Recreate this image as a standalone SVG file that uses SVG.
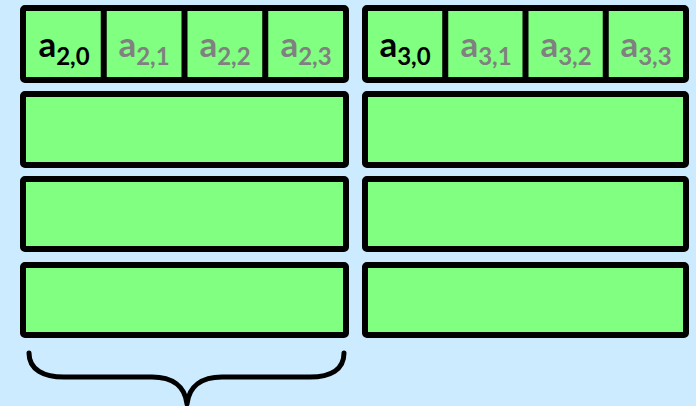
<svg xmlns="http://www.w3.org/2000/svg" width="696" height="406" viewBox="0 0 696 406">
  <style>
    .box { fill: #80FF80; stroke: #000; stroke-width: 6; }
    .div { stroke: #000; stroke-width: 6; }
    .lbl { font-family: Lato, "Open Sans", "Liberation Sans", sans-serif; font-weight: bold; font-size: 35px; text-anchor: middle; }
    .sub { font-size: 24px; }
    .on { fill: #000; }
    .off { fill: #808080; }
    .brace { fill: none; stroke: #000; stroke-width: 5; stroke-linecap: round; stroke-linejoin: round; }
  </style>
  <rect width="696" height="406" fill="#CCEBFF"/>

  <g id="row-left-0">
    <rect class="box" x="23" y="8" width="323" height="72" rx="2"/>
    <line class="div" x1="103.75" y1="8" x2="103.75" y2="80"/>
    <line class="div" x1="184.5" y1="8" x2="184.5" y2="80"/>
    <line class="div" x1="265.25" y1="8" x2="265.25" y2="80"/>
    <text class="lbl on" x="64" y="57">a<tspan class="sub" dy="8">2,0</tspan></text>
    <text class="lbl off" x="144" y="57">a<tspan class="sub" dy="8">2,1</tspan></text>
    <text class="lbl off" x="225" y="57">a<tspan class="sub" dy="8">2,2</tspan></text>
    <text class="lbl off" x="306" y="57">a<tspan class="sub" dy="8">2,3</tspan></text>
  </g>
  <g id="row-right-0">
    <rect class="box" x="365" y="8" width="321" height="72" rx="2"/>
    <line class="div" x1="445.25" y1="8" x2="445.25" y2="80"/>
    <line class="div" x1="525.5" y1="8" x2="525.5" y2="80"/>
    <line class="div" x1="605.75" y1="8" x2="605.75" y2="80"/>
    <text class="lbl on" x="405" y="57">a<tspan class="sub" dy="8">3,0</tspan></text>
    <text class="lbl off" x="486" y="57">a<tspan class="sub" dy="8">3,1</tspan></text>
    <text class="lbl off" x="566" y="57">a<tspan class="sub" dy="8">3,2</tspan></text>
    <text class="lbl off" x="646" y="57">a<tspan class="sub" dy="8">3,3</tspan></text>
  </g>

  <g id="row-left-1"><rect class="box" x="23" y="94" width="323" height="71" rx="2"/></g>
  <g id="row-right-1"><rect class="box" x="365" y="94" width="321" height="71" rx="2"/></g>
  <g id="row-left-2"><rect class="box" x="23" y="179" width="323" height="70" rx="2"/></g>
  <g id="row-right-2"><rect class="box" x="365" y="179" width="321" height="70" rx="2"/></g>
  <g id="row-left-3"><rect class="box" x="23" y="265" width="323" height="70" rx="2"/></g>
  <g id="row-right-3"><rect class="box" x="365" y="265" width="321" height="70" rx="2"/></g>

  <g id="connectors">
    <path class="brace" d="M 29 353 C 29 370 44 377 64 377 L 152 377 C 172 377 185 386 187 404 C 189 386 202 377 222 377 L 310 377 C 330 377 344 370 344 353"/>
  </g>
</svg>
